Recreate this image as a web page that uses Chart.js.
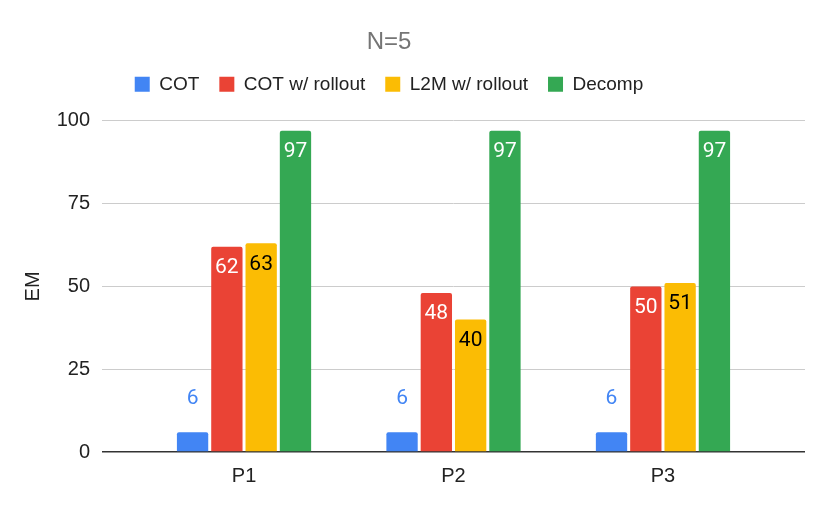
<!DOCTYPE html>
<html>
<head>
<meta charset="utf-8">
<script src="https://cdn.jsdelivr.net/npm/chart.js@4.4.1/dist/chart.umd.min.js"></script>
<style>
  html, body { margin: 0; padding: 0; background: #fff; }
  #wrap { width: 830px; height: 510px; }
</style>
</head>
<body>
<div id="wrap"><canvas id="chart"></canvas></div>
<script>
// data
const categories = ['P1', 'P2', 'P3'];
const seriesNames = ['COT', 'COT w/ rollout', 'L2M w/ rollout', 'Decomp'];
const cotValues = [6, 6, 6];
const cotRolloutValues = [62, 48, 50];
const l2mRolloutValues = [63, 40, 51];
const decompValues = [97, 97, 97];
const yTicks = [0, 25, 50, 75, 100];

const colors = ['#4285F4', '#EA4335', '#FBBC04', '#34A853'];
const labelColors = ['#4285F4', '#FFFFFF', '#000000', '#FFFFFF'];

// bars placed on a linear x scale so the group spacing matches the original
function toPoints(values) {
    return values.map((v, i) => ({x: i, y: v}));
}

const allValues = [cotValues, cotRolloutValues, l2mRolloutValues, decompValues];
const datasets = allValues.map((vals, i) => ({
    label: seriesNames[i],
    data: toPoints(vals),
    backgroundColor: colors[i],
    borderWidth: 0,
    borderRadius: {topLeft: 2, topRight: 2},
    borderSkipped: 'start',
    categoryPercentage: 0.655,
    barPercentage: 0.913
}));

// value labels: inside the top of the bar, or above it when the bar is short
const barLabels = {
    id: 'barLabels',
    afterDatasetsDraw: (chart) => {
        const {ctx} = chart;
        ctx.save();
        ctx.font = '21px Roboto, "Liberation Sans", sans-serif';
        ctx.textAlign = 'center';
        ctx.textBaseline = 'middle';
        chart.data.datasets.forEach((ds, di) => {
            const meta = chart.getDatasetMeta(di);
            meta.data.forEach((bar, i) => {
                const v = ds.data[i].y;
                if (v < 10) {
                    ctx.fillStyle = colors[di];
                    ctx.fillText(String(v), bar.x, bar.y - 33);
                } else {
                    ctx.fillStyle = labelColors[di];
                    ctx.fillText(String(v), bar.x, bar.y + 21);
                }
            });
        });
        ctx.restore();
    }
};

// title and legend are centred a bit left of the canvas centre in the original
const headerShift = {
    id: 'headerShift',
    afterLayout: (chart) => {
        const w = 778;
        [chart.titleBlock, chart.legend].forEach(b => {
            if (!b) return;
            b.left = 0; b.right = w; b.width = w;
        });
        if (chart.legend) {
            chart.legend.top -= 17;
            chart.legend.bottom -= 17;
        }
    }
};

const ctx = document.getElementById('chart').getContext('2d');
const chart = new Chart(ctx, {
    type: 'bar',
    data: { datasets: datasets },
    options: {
        responsive: true,
        maintainAspectRatio: false,
        animation: false,
        layout: { padding: {left: 0, right: 25, top: 0, bottom: 10} },
        plugins: {
            title: {
                display: true,
                text: 'N=5',
                color: '#757575',
                font: {family: '"Liberation Sans", Arial, sans-serif', size: 24, weight: 'normal'},
                padding: {top: 27.5, bottom: 15.5}
            },
            legend: {
                position: 'top',
                labels: {
                    color: '#222222',
                    font: {family: '"Liberation Sans", Arial, sans-serif', size: 19},
                    boxWidth: 15,
                    boxHeight: 15,
                    padding: 20
                }
            },
            tooltip: { enabled: false }
        },
        scales: {
            x: {
                type: 'linear',
                min: -0.678,
                max: 2.678,
                offset: false,
                grid: { display: false, drawTicks: false },
                border: { display: false },
                ticks: {
                    stepSize: 1,
                    includeBounds: false,
                    padding: 12,
                    color: '#222222',
                    font: {family: '"Liberation Sans", Arial, sans-serif', size: 20},
                    callback: (value) => Number.isInteger(value) ? (categories[value] || '') : ''
                }
            },
            y: {
                min: 0,
                max: 100,
                afterBuildTicks: (scale) => {
                    scale.ticks = yTicks.map(v => ({value: v}));
                },
                afterFit: (scale) => { scale.width = 102; },
                grid: {
                    drawTicks: false,
                    color: (c) => c.tick && c.tick.value === 0 ? '#333333' : '#CCCCCC',
                    lineWidth: (c) => c.tick && c.tick.value === 0 ? 1.5 : 1
                },
                border: { display: false },
                ticks: {
                    padding: 12,
                    color: '#222222',
                    font: {family: '"Liberation Sans", Arial, sans-serif', size: 20}
                },
                title: {
                    display: true,
                    text: 'EM',
                    color: '#222222',
                    font: {family: '"Liberation Sans", Arial, sans-serif', size: 20},
                    padding: {top: 21, bottom: 0}
                }
            }
        }
    },
    plugins: [barLabels, headerShift]
});
</script>
</body>
</html>
